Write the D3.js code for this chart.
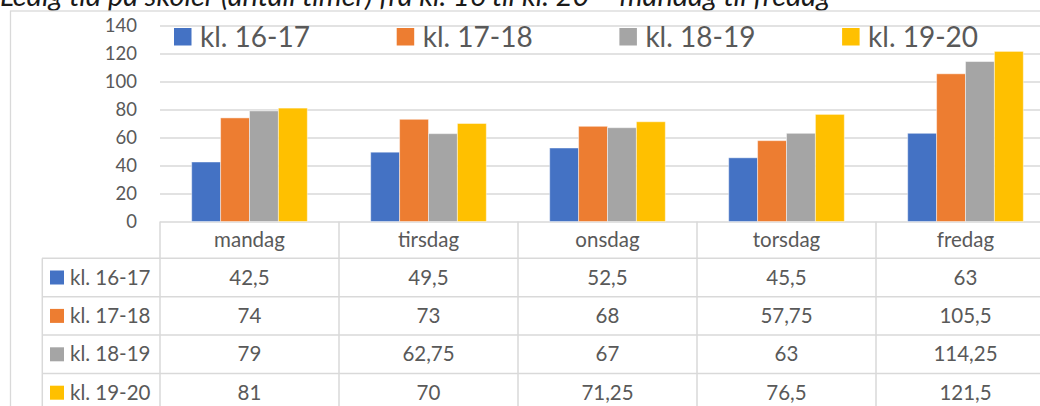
<!DOCTYPE html>
<html>
<head>
<meta charset="utf-8">
<script src="https://cdn.jsdelivr.net/npm/d3@7"></script>
<style>
  body { margin: 0; background: #fff; }
  svg { display: block; font-family: Lato, "Open Sans", sans-serif; }
</style>
</head>
<body>
<svg id="chart" width="1040" height="406"></svg>
<script>
const days = ["mandag", "tirsdag", "onsdag", "torsdag", "fredag"]
const series = ["kl. 16-17", "kl. 17-18", "kl. 18-19", "kl. 19-20"]
const kl16_17 = [42.5, 49.5, 52.5, 45.5, 63]
const kl17_18 = [74, 73, 68, 57.75, 105.5]
const kl18_19 = [79, 62.75, 67, 63, 114.25]
const kl19_20 = [81, 70, 71.25, 76.5, 121.5]
const yTicks = [0, 20, 40, 60, 80, 100, 120, 140]
const title = "Ledig tid på skoler (antall timer) fra kl. 16 til kl. 20 – mandag til fredag"

const values = [kl16_17, kl17_18, kl18_19, kl19_20]
const colors = ["#4472C4", "#ED7D31", "#A5A5A5", "#FFC000"]
const grid = "#d9d9d9"
const textCol = "#595959"

const svg = d3.select("#chart")

// title sits above the frame, its top is cut off like in the original
svg.append("text")
  .attr("x", 0)
  .attr("y", 6)
  .attr("font-size", 29)
  .attr("font-style", "italic")
  .attr("fill", "#1a1a1a")
  .text(title)

// chart frame
svg.append("rect")
  .attr("x", 10.5).attr("y", 11)
  .attr("width", 1100).attr("height", 500)
  .attr("fill", "#fff")
  .attr("stroke", grid)
  .attr("stroke-width", 1.3)

const x0 = d3.scaleBand().domain(days).range([160, 1055])
const x1 = d3.scaleBand().domain(series)
  .range([x0.bandwidth() * 0.177, x0.bandwidth() * 0.823])
const y = d3.scaleLinear().domain([0, 140]).range([221.5, 25.5])

// gridlines + y labels
const yAxis = svg.append("g")
  .attr("transform", "translate(160,0)")
  .call(d3.axisLeft(y).tickValues(yTicks).tickSize(-900).tickPadding(23))
yAxis.select(".domain").remove()
yAxis.selectAll("line").attr("stroke", grid).attr("stroke-width", 1.3)
yAxis.selectAll("text")
  .attr("font-size", 18.5)
  .attr("fill", textCol)
  .attr("font-family", "Lato, sans-serif")

// bars
const groups = svg.append("g").selectAll("g")
  .data(days)
  .join("g")
  .attr("transform", d => `translate(${x0(d)},0)`)

groups.selectAll("rect")
  .data((d, i) => series.map((s, j) => ({ s, j, v: values[j][i] })))
  .join("rect")
  .attr("x", d => x1(d.s))
  .attr("width", x1.bandwidth())
  .attr("y", d => y(d.v))
  .attr("height", d => y(0) - y(d.v))
  .attr("fill", d => colors[d.j])
  .attr("stroke", "rgba(255,255,255,0.45)")
  .attr("stroke-width", 1)

// legend
const legend = svg.append("g").selectAll("g")
  .data(series)
  .join("g")
  .attr("transform", (d, i) => `translate(${174 + i * 222.7},0)`)
legend.append("rect")
  .attr("x", 0).attr("y", 28)
  .attr("width", 17.5).attr("height", 17.5)
  .attr("fill", (d, i) => colors[i])
legend.append("text")
  .attr("x", 26).attr("y", 46.5)
  .attr("font-size", 28)
  .attr("fill", textCol)
  .text(d => d)

// data table
const headTop = 221.5
const rowTop = 258.3
const rowH = 38.4
const table = svg.append("g")

table.selectAll("line.h")
  .data(d3.range(series.length + 1))
  .join("line")
  .attr("x1", 42)
  .attr("x2", 1100)
  .attr("y1", i => rowTop + i * rowH)
  .attr("y2", i => rowTop + i * rowH)
  .attr("stroke", grid).attr("stroke-width", 1.5)

table.selectAll("line.v")
  .data(days.map(d => x0(d)))
  .join("line")
  .attr("x1", d => d).attr("x2", d => d)
  .attr("y1", headTop).attr("y2", 420)
  .attr("stroke", grid).attr("stroke-width", 1.5)

table.append("line")
  .attr("x1", 42.3).attr("x2", 42.3)
  .attr("y1", rowTop).attr("y2", 420)
  .attr("stroke", grid).attr("stroke-width", 1.5)

table.selectAll("text.day")
  .data(days)
  .join("text")
  .attr("x", d => x0(d) + x0.bandwidth() / 2)
  .attr("y", headTop + 18.5)
  .attr("dy", "0.35em")
  .attr("text-anchor", "middle")
  .attr("font-size", 20.5)
  .attr("fill", textCol)
  .text(d => d)

const fmt = v => String(v).replace(".", ",")

series.forEach((s, j) => {
  const cy = rowTop + j * rowH + rowH / 2
  table.append("rect")
    .attr("x", 50).attr("y", cy - 7)
    .attr("width", 14).attr("height", 14)
    .attr("fill", colors[j])
  table.append("text")
    .attr("x", 70).attr("y", cy)
    .attr("dy", "0.35em")
    .attr("font-size", 20.5)
    .attr("fill", textCol)
    .text(s)
  table.selectAll(null)
    .data(values[j])
    .join("text")
    .attr("x", (v, i) => x0(days[i]) + x0.bandwidth() / 2)
    .attr("y", cy)
    .attr("dy", "0.35em")
    .attr("text-anchor", "middle")
    .attr("font-size", 20.5)
    .attr("fill", textCol)
    .text(fmt)
})
</script>
</body>
</html>
